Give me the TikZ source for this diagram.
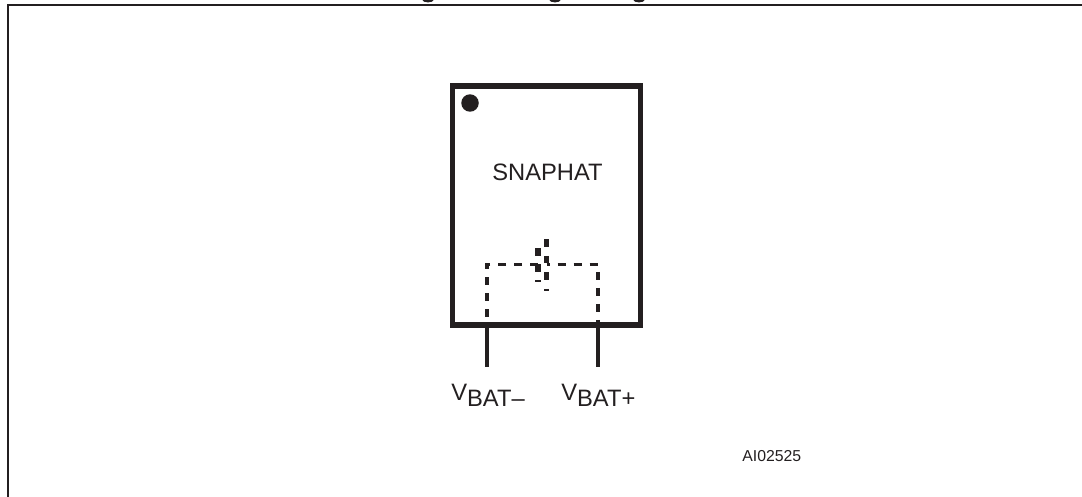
\documentclass[tikz,border=0pt]{standalone}
\usepackage{fontspec}
\setmainfont{Liberation Sans}
\definecolor{ink}{HTML}{231F20}
\tikzset{
  chip/.style={draw=ink,line width=2.9pt,rectangle,inner sep=0pt,outer sep=0pt,minimum width=3.76cm,minimum height=4.78cm},
  pinline/.style={draw=ink,line width=1.9pt},
  hidden/.style={draw=ink,line width=1.8pt,dash pattern=on 0.16cm off 0.16cm},
  longplate/.style={draw=ink,line width=3pt,dash pattern=on 0.15cm off 0.18cm},
  shortplate/.style={draw=ink,line width=3pt,dash pattern=on 0.15cm off 0.17cm},
  caption/.style={text=ink,inner sep=0pt,font=\fontsize{13.5pt}{15pt}\selectfont,anchor=base west},
}
\begin{document}
\begin{tikzpicture}[x=0.02cm,y=-0.02cm]
      \clip (0,0) rectangle (1082,497);
      \useasboundingbox (0,0) rectangle (1082,497);
      % frame, open at right and bottom
      \coordinate (framea) at (8,497);
      \coordinate (frameb) at (8,5);
      \coordinate (framec) at (1082,5);
      \draw[ink,line width=1.4pt] (framea) -- (frameb) -- (framec);
      \foreach \x in {428,555,639}
        \fill[ink] (\x,0) ellipse (5.5 and 2.4);
      % package
      \node[chip] (snaphat) at (546.5,205.5) {};
      \node[circle,fill=ink,inner sep=0pt,minimum size=0.35cm] (dot) at (470,103) {};
      \node[caption] (name) at (492,180) {SNAPHAT};
      % pins
      \coordinate (minusin) at (487,324.5);
      \coordinate (plusin) at (598,324.5);
      \coordinate (minusend) at (487,367);
      \coordinate (plusend) at (598,367);
      \draw[pinline] (minusin) -- (minusend);
      \draw[pinline] (plusin) -- (plusend);
      % cell
      \coordinate (shorttop) at (538,248.3);
      \coordinate (shortbot) at (538,282);
      \coordinate (longtop) at (546.7,239.3);
      \coordinate (longbot) at (546.7,290.5);
      \coordinate (minusjoin) at (538,264.3);
      \coordinate (plusjoin) at (546.7,264.3);
      \coordinate (minuscorner) at (487,264.3);
      \coordinate (pluscorner) at (598,264.3);
      \draw[shortplate] (shorttop) -- (shortbot);
      \draw[longplate] (longtop) -- (longbot);
      \draw[hidden] (minusjoin) -- (minuscorner) -- (minusin);
      \draw[hidden,dash phase=0.1cm] (plusjoin) -- (pluscorner) -- (plusin);
      % labels
      \node[caption] (vminus) at (451,400) {V\raisebox{-0.12cm}{BAT–}};
      \node[caption] (vplus) at (561,400) {V\raisebox{-0.12cm}{BAT+}};
      \node[caption,font=\fontsize{9pt}{11pt}\selectfont] (code) at (742,461) {AI02525};
\end{tikzpicture}
\end{document}
